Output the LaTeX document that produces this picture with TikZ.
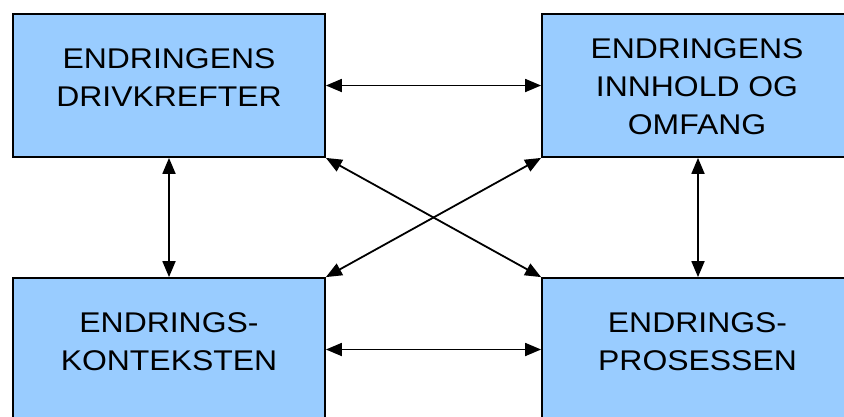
\documentclass[tikz,border=0pt]{standalone}
\usepackage{fontspec}
\setmainfont{Liberation Sans}[FakeStretch=1.12]
\usetikzlibrary{arrows.meta}
\definecolor{boxblue}{RGB}{153,204,255}
\begin{document}
\begin{tikzpicture}[x=1pt,y=-1pt,
  box/.style={draw=black,line width=1.8pt,fill=boxblue,minimum width=312pt,minimum height=143pt,inner sep=0pt},
  lbl/.style={align=center,inner sep=0pt,font=\fontsize{28.5}{38}\selectfont},
  link/.style={line width=1.8pt,{Triangle[length=16pt,width=13pt]}-{Triangle[length=16pt,width=13pt]}}]
\useasboundingbox (0,0) rectangle (844,416);
\clip (0,0) rectangle (844,416);
\fill[white] (0,0) rectangle (844,416);
\node[box] (tl) at (169,85.5) {};
\node[box] (tr) at (698,85.5) {};
\node[box] (bl) at (169,349.5) {};
\node[box] (br) at (698,349.5) {};
\node[lbl] (tlt) at (169,77.5) {ENDRINGENS\\DRIVKREFTER};
\node[lbl] (trt) at (697,87) {ENDRINGENS\\INNHOLD OG\\OMFANG};
\node[lbl] (blt) at (169,341.2) {ENDRINGS-\\KONTEKSTEN};
\node[lbl] (brt) at (697.5,341.7) {ENDRINGS-\\PROSESSEN};
\draw[link] (tl.east) -- (tr.west);
\draw[link] (bl.east) -- (br.west);
\draw[link] (tl.south) -- (bl.north);
\draw[link] (tr.south) -- (br.north);
\draw[link] (tl.south east) -- (br.north west);
\draw[link] (tr.south west) -- (bl.north east);
\end{tikzpicture}
\end{document}
